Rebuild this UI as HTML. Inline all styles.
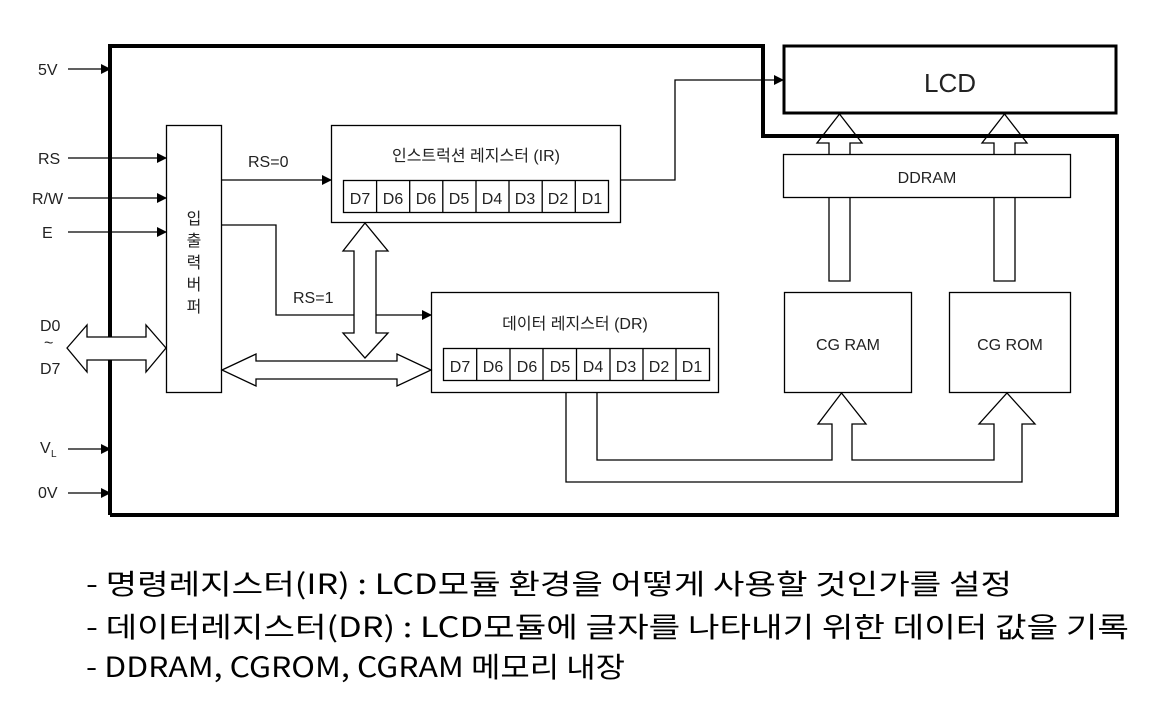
<!DOCTYPE html>
<html><head><meta charset="utf-8"><style>
html,body{margin:0;padding:0;background:#fff;}
svg{display:block;}
.t{font-family:"Liberation Sans","Noto Sans CJK KR",sans-serif;fill:#222;}
.k{font-family:"Noto Sans CJK KR","Liberation Sans",sans-serif;fill:#000;}
</style></head><body>
<svg width="1162" height="703" viewBox="0 0 1162 703" xmlns="http://www.w3.org/2000/svg">
<defs>
<marker id="a" markerWidth="10" markerHeight="10" refX="9" refY="5" orient="auto" markerUnits="userSpaceOnUse"><path d="M0,0 L10,5 L0,10 z" fill="#000"/></marker>
</defs>
<polyline points="110,515 110,46 763,46 763,136 1117,136 1117,515 110,515" fill="none" stroke="#000" stroke-width="4"/>
<rect x="784" y="46" width="332" height="67" fill="#fff" stroke="#000" stroke-width="3"/>
<text x="950" y="92" class="t" font-size="26" text-anchor="middle" fill="#000">LCD</text>
<g stroke="#000" stroke-width="1.3" marker-end="url(#a)">
<line x1="68" y1="69" x2="110" y2="69"/>
<line x1="68" y1="158" x2="166" y2="158"/>
<line x1="68" y1="198" x2="166" y2="198"/>
<line x1="68" y1="232" x2="166" y2="232"/>
<line x1="68" y1="449" x2="110" y2="449"/>
<line x1="68" y1="493" x2="110" y2="493"/>
<line x1="221" y1="180" x2="331" y2="180"/>
<polyline points="221,225 276,225 276,315 431,315" fill="none"/>
<polyline points="621,180 675,180 675,80 783,80" fill="none"/>
</g>
<g class="t" font-size="16">
<text x="38" y="75">5V</text>
<text x="38" y="164">RS</text>
<text x="32" y="204">R/W</text>
<text x="42" y="238">E</text>
<text x="40" y="331">D0</text>
<text x="44" y="348">~</text>
<text x="40" y="374">D7</text>
<text x="40" y="453">V</text><text x="51" y="457" font-size="10">L</text>
<text x="38" y="498">0V</text>
<text x="248" y="167">RS=0</text>
<text x="293" y="303">RS=1</text>
</g>
<rect x="166.5" y="125.5" width="55" height="267" fill="#fff" stroke="#000" stroke-width="1.3"/>
<g class="t" font-size="16" text-anchor="middle">
<text x="194" y="224">입</text><text x="194" y="246">출</text><text x="194" y="268">력</text><text x="194" y="290">버</text><text x="194" y="312">퍼</text>
</g>
<polygon points="67,348 87,325 87,337 146,337 146,325 166,348 146,372 146,360 87,360 87,372" fill="#fff" stroke="#000" stroke-width="1.3"/>
<rect x="331.5" y="125.5" width="289" height="97" fill="#fff" stroke="#000" stroke-width="1.3"/>
<text x="476" y="161" class="t" font-size="16" text-anchor="middle">인스트럭션 레지스터 (IR)</text>
<g stroke="#000" stroke-width="1.3" fill="none">
<rect x="343.5" y="180.5" width="265" height="32"/>
<line x1="376.6" y1="180" x2="376.6" y2="213"/><line x1="409.7" y1="180" x2="409.7" y2="213"/><line x1="442.8" y1="180" x2="442.8" y2="213"/><line x1="476" y1="180" x2="476" y2="213"/><line x1="509" y1="180" x2="509" y2="213"/><line x1="542.2" y1="180" x2="542.2" y2="213"/><line x1="575.3" y1="180" x2="575.3" y2="213"/>
</g>
<g class="t" font-size="16" text-anchor="middle">
<text x="360" y="204">D7</text><text x="393" y="204">D6</text><text x="426" y="204">D6</text><text x="459" y="204">D5</text><text x="492" y="204">D4</text><text x="525" y="204">D3</text><text x="558" y="204">D2</text><text x="592" y="204">D1</text>
</g>
<rect x="431.5" y="292.5" width="287" height="100" fill="#fff" stroke="#000" stroke-width="1.3"/>
<text x="575" y="329" class="t" font-size="16" text-anchor="middle">데이터 레지스터 (DR)</text>
<g stroke="#000" stroke-width="1.3" fill="none">
<rect x="443.5" y="348.5" width="266" height="32"/>
<line x1="476.7" y1="348" x2="476.7" y2="381"/><line x1="510" y1="348" x2="510" y2="381"/><line x1="543" y1="348" x2="543" y2="381"/><line x1="576.5" y1="348" x2="576.5" y2="381"/><line x1="610" y1="348" x2="610" y2="381"/><line x1="643" y1="348" x2="643" y2="381"/><line x1="676" y1="348" x2="676" y2="381"/>
</g>
<g class="t" font-size="16" text-anchor="middle">
<text x="460" y="372">D7</text><text x="493" y="372">D6</text><text x="527" y="372">D6</text><text x="560" y="372">D5</text><text x="593" y="372">D4</text><text x="626" y="372">D3</text><text x="659" y="372">D2</text><text x="692" y="372">D1</text>
</g>
<polygon points="365,223 388,251 376,251 376,333 388,333 365,358 343,333 354,333 354,251 343,251" fill="#fff" stroke="#000" stroke-width="1.3"/>
<polygon points="222,370 256,354 256,361 397,361 397,354 431,370 397,386 397,379 256,379 256,386" fill="#fff" stroke="#000" stroke-width="1.3"/>
<rect x="783.5" y="154.5" width="287" height="43" fill="#fff" stroke="#000" stroke-width="1.3"/>
<text x="927" y="183" class="t" font-size="16" text-anchor="middle">DDRAM</text>
<g fill="none" stroke="#000" stroke-width="1.3">
<polyline points="829,154 829,143 817,143 839.5,114 862,143 850,143 850,154"/>
<polyline points="994,154 994,143 982,143 1004.5,114 1027,143 1015,143 1015,154"/>
<polyline points="829,198 829,281 850,281 850,198"/>
<polyline points="994,198 994,281 1015,281 1015,198"/>
</g>
<rect x="784.5" y="292.5" width="127" height="100" fill="#fff" stroke="#000" stroke-width="1.3"/>
<text x="848" y="350" class="t" font-size="16" text-anchor="middle">CG RAM</text>
<rect x="949.5" y="292.5" width="121" height="100" fill="#fff" stroke="#000" stroke-width="1.3"/>
<text x="1010" y="350" class="t" font-size="16" text-anchor="middle">CG ROM</text>
<g fill="none" stroke="#000" stroke-width="1.3">
<polyline points="597,393 597,460 832,460 832,424 818,424 841.5,393 866,424 852,424 852,460 994,460 994,424 979,424 1007,393 1035,424 1022,424 1022,482 566,482 566,393"/>
</g>
<g class="k" font-size="28">
<text x="86" y="594" textLength="926" lengthAdjust="spacingAndGlyphs">- 명령레지스터(IR) : LCD모듈 환경을 어떻게 사용할 것인가를 설정</text>
<text x="86" y="637" textLength="1043" lengthAdjust="spacingAndGlyphs">- 데이터레지스터(DR) : LCD모듈에 글자를 나타내기 위한 데이터 값을 기록</text>
<text x="86" y="677" textLength="539" lengthAdjust="spacingAndGlyphs">- DDRAM, CGROM, CGRAM 메모리 내장</text>
</g>
</svg>
</body></html>
